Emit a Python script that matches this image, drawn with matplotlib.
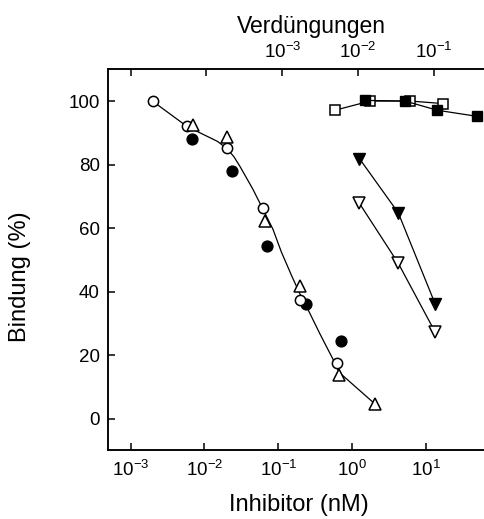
import matplotlib
matplotlib.use("Agg")
import matplotlib.pyplot as plt
from matplotlib.ticker import FixedLocator, LogFormatterSciNotation, NullLocator

plt.rcParams['font.family'] = ['Liberation Sans', 'DejaVu Sans']
plt.rcParams['mathtext.fontset'] = 'custom'
plt.rcParams['mathtext.rm'] = 'Liberation Sans'
plt.rcParams['mathtext.it'] = 'Liberation Sans'
plt.rcParams['mathtext.default'] = 'regular'

# inhibitor series (bottom axis, nM)
circ_open_x = [0.00202, 0.00574, 0.0204, 0.0615, 0.197, 0.618]
circ_open_y = [100.0, 92.1, 85.3, 66.2, 37.4, 17.5]
tri_open_x = [0.00692, 0.0200, 0.066, 0.197, 0.67, 2.04]
tri_open_y = [92.6, 88.6, 62.2, 41.6, 13.7, 4.6]
circ_full_x = [0.00684, 0.0234, 0.0697, 0.237, 0.708]
circ_full_y = [88.2, 78.1, 54.2, 36.2, 24.5]

# fitted curve through the inhibitor data
fit_x = [0.0020, 0.0058, 0.0100, 0.0150, 0.0202, 0.0250, 0.0303, 0.0454,
         0.0621, 0.0848, 0.110, 0.153, 0.197, 0.252, 0.370, 0.551, 0.664, 2.04]
fit_y = [99.9, 92.0, 89.3, 87.3, 85.0, 82.5, 79.4, 72.2,
         65.9, 59.6, 52.5, 44.8, 39.2, 34.4, 26.5, 18.7, 14.6, 4.6]

# dilution series (top axis)
sq_open_x = [0.00495, 0.0144, 0.0484, 0.133]
sq_open_y = [97.1, 100.0, 100.0, 99.2]
sq_full_x = [0.0123, 0.0416, 0.111, 0.367]
sq_full_y = [100.2, 100.0, 97.1, 95.2]
dtri_full_x = [0.0104, 0.0339, 0.1035]
dtri_full_y = [81.9, 64.8, 36.2]
dtri_open_x = [0.0104, 0.0339, 0.1035]
dtri_open_y = [67.8, 48.9, 27.3]

fig = plt.figure(figsize=(4.84, 5.19), dpi=100)
ax = fig.add_axes([0.2231, 0.1324, 0.8093, 0.7341])
ax.set_xscale('log')
ax.set_xlim(10 ** -3.307, 10 ** 2.0)
ax.set_ylim(-10, 110)

lw = 0.9
ms = 7.4
ax.plot(fit_x, fit_y, color='black', lw=lw, zorder=1)
ax.plot(circ_full_x, circ_full_y, 'o', color='black', ms=ms + 0.4, zorder=3)
ax.plot(circ_open_x, circ_open_y, 'o', mfc='white', mec='black', mew=1.1, ms=ms, zorder=3)
ax.plot(tri_open_x, tri_open_y, '^', mfc='white', mec='black', mew=1.1, ms=ms + 1.2, zorder=3)

ax.set_yticks([0, 20, 40, 60, 80, 100])
ax.xaxis.set_major_locator(FixedLocator([1e-3, 1e-2, 1e-1, 1e0, 1e1]))
ax.xaxis.set_major_formatter(LogFormatterSciNotation())
ax.xaxis.set_minor_locator(NullLocator())
ax.tick_params(direction='in', length=5, width=1.1, labelsize=13.5, pad=6)
ax.tick_params(axis='x', pad=7)

ax.set_xlabel('Inhibitor (nM)', fontsize=17)
ax.xaxis.set_label_coords(0.487, -0.115)
ax.set_ylabel('Bindung (%)', fontsize=17)
ax.yaxis.set_label_coords(-0.196, 0.455)

top = ax.twiny()
top.set_xscale('log')
top.set_xlim(10 ** -5.2995, 10 ** -0.132)
top.set_ylim(-10, 110)
top.plot(sq_open_x, sq_open_y, 's-', color='black', mfc='white', mec='black',
         mew=1.1, ms=ms + 0.4, lw=lw, zorder=2)
top.plot(sq_full_x, sq_full_y, 's-', color='black', ms=ms + 0.4, lw=lw, zorder=3)
top.plot(dtri_full_x, dtri_full_y, 'v-', color='black', ms=ms + 1.2, lw=lw, zorder=3)
top.plot(dtri_open_x, dtri_open_y, 'v-', color='black', mfc='white', mec='black',
         mew=1.1, ms=ms + 1.2, lw=lw, zorder=3)

top.xaxis.set_major_locator(FixedLocator([1e-5, 1e-4, 1e-3, 1e-2, 1e-1]))
top.xaxis.set_minor_locator(NullLocator())
top.set_xticklabels(['', '', r'$10^{-3}$', r'$10^{-2}$', r'$10^{-1}$'])
top.tick_params(direction='in', length=5, width=1.1, labelsize=13.5, pad=5)
top.set_xlabel('Verdüngungen', fontsize=16.5)
top.xaxis.set_label_coords(0.52, 1.095)

for a in (ax, top):
    for s in a.spines.values():
        s.set_linewidth(1.1)

fig.savefig('out.png', dpi=100)
